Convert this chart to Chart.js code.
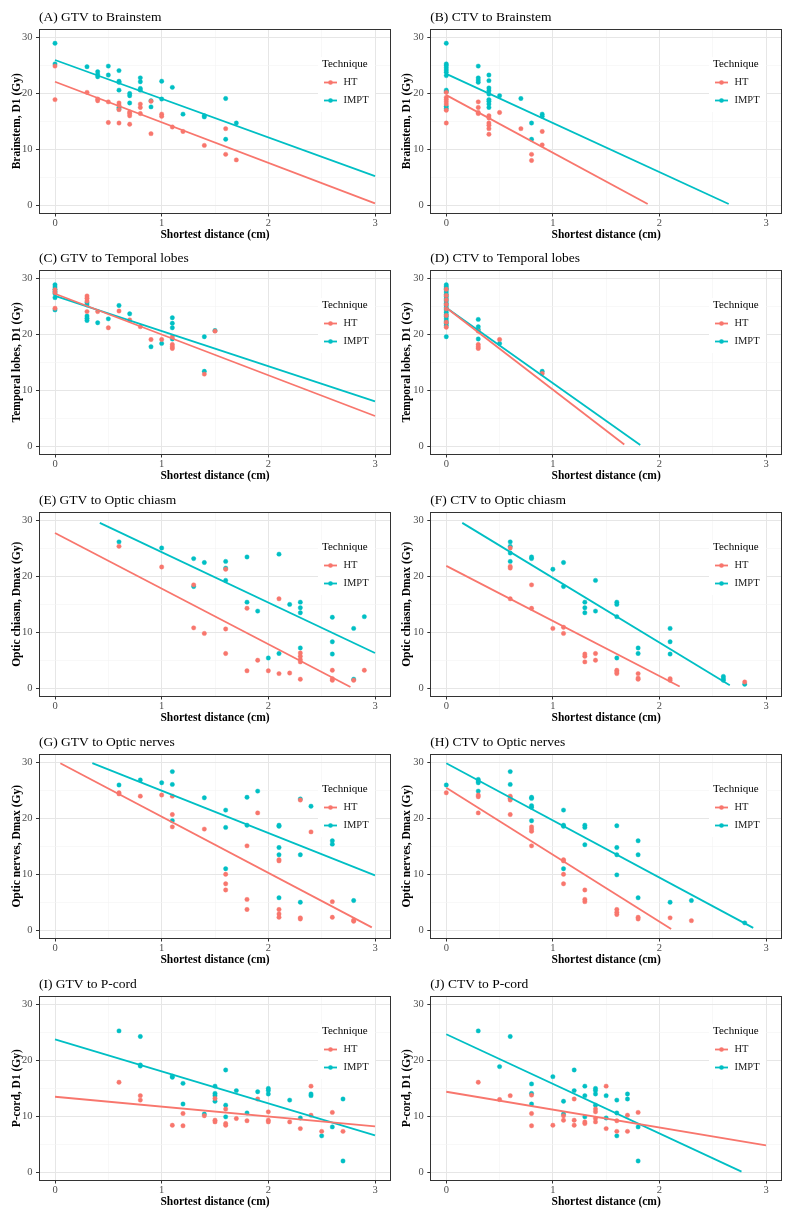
<!DOCTYPE html>
<html>
<head>
<meta charset="utf-8">
<script src="https://cdn.jsdelivr.net/npm/chart.js@4.4.0/dist/chart.umd.min.js"></script>
<style>
  body { margin: 0; background: #fff; width: 793px; height: 1215px; position: relative; overflow: hidden; }
  canvas.panel { position: absolute; }
</style>
</head>
<body>
<script>
// Shared settings
const techniques = ["HT", "IMPT"];
const techColors = ["#F8766D", "#00BFC4"];
const xTicks = [0, 0.5, 1, 1.5, 2, 2.5, 3];
const yTicks = [0, 5, 10, 15, 20, 25, 30];
const xTitle = "Shortest distance (cm)";

// (A) GTV to Brainstem
const htA = [[0,24.9],[0,18.9],[0.3,20.2],[0.4,19.0],[0.4,18.7],[0.5,18.5],[0.5,14.8],[0.6,18.3],[0.6,17.9],[0.6,17.1],[0.6,14.7],[0.7,16.7],[0.7,16.4],[0.7,16.0],[0.7,14.5],[0.8,18.1],[0.8,17.5],[0.8,16.4],[0.9,18.6],[0.9,12.8],[1.0,16.3],[1.0,15.9],[1.1,14.0],[1.2,13.2],[1.4,10.7],[1.6,13.7],[1.6,9.1],[1.7,8.1]];
const imptA = [[0,29.0],[0,25.3],[0.3,24.8],[0.4,23.9],[0.4,23.4],[0.4,23.0],[0.5,24.9],[0.5,23.3],[0.6,24.1],[0.6,22.2],[0.6,22.0],[0.6,20.6],[0.6,17.5],[0.6,17.2],[0.7,20.0],[0.7,19.6],[0.7,18.3],[0.8,22.8],[0.8,22.1],[0.8,20.9],[0.8,20.6],[0.9,18.7],[0.9,17.6],[1.0,22.2],[1.0,19.0],[1.1,21.1],[1.2,16.3],[1.4,16.0],[1.4,15.8],[1.6,19.1],[1.6,11.8],[1.7,14.7]];
const fitHtA = [[0,22.1],[3,0.3]];
const fitImptA = [[0,26.0],[3,5.2]];

// (B) CTV to Brainstem
const htB = [[0,20.2],[0,19.3],[0,18.9],[0,18.5],[0,18.1],[0,17.0],[0,14.7],[0.3,18.5],[0.3,17.5],[0.3,16.6],[0.3,16.4],[0.4,16.0],[0.4,15.6],[0.4,14.7],[0.4,14.3],[0.4,13.7],[0.4,12.7],[0.5,16.6],[0.7,13.7],[0.8,9.1],[0.8,8.0],[0.9,13.2],[0.9,10.8]];
const imptB = [[0,29.0],[0,25.3],[0,25.0],[0,24.6],[0,24.2],[0,23.8],[0,23.2],[0,20.6],[0,20.3],[0,17.7],[0,17.3],[0.3,24.9],[0.3,22.8],[0.3,22.4],[0.3,22.0],[0.4,23.3],[0.4,22.3],[0.4,21.0],[0.4,20.5],[0.4,19.9],[0.4,18.9],[0.4,18.6],[0.4,18.1],[0.4,17.5],[0.5,19.6],[0.7,19.1],[0.8,14.7],[0.8,11.8],[0.9,16.3],[0.9,15.9]];
const fitHtB = [[0,19.7],[1.89,0.2]];
const fitImptB = [[0,23.5],[2.65,0.2]];

// (C) GTV to Temporal lobes
const htC = [[0,28.0],[0,27.5],[0,24.7],[0.3,26.9],[0.3,26.5],[0.3,26.0],[0.3,24.1],[0.4,24.1],[0.5,21.2],[0.6,24.2],[0.7,22.6],[0.8,21.4],[0.9,19.1],[1.0,19.1],[1.1,19.6],[1.1,18.2],[1.1,17.8],[1.1,17.5],[1.4,12.9],[1.5,20.6]];
const imptC = [[0,28.9],[0,28.5],[0,28.1],[0,27.7],[0,27.3],[0,26.6],[0,24.4],[0.3,25.7],[0.3,25.3],[0.3,23.3],[0.3,22.9],[0.3,22.5],[0.4,22.1],[0.5,22.8],[0.6,25.2],[0.7,23.7],[0.9,17.8],[1.0,18.4],[1.1,23.0],[1.1,22.0],[1.1,21.2],[1.1,19.2],[1.4,19.6],[1.4,13.4],[1.5,20.7]];
const fitHtC = [[0,27.3],[3,5.4]];
const fitImptC = [[0,26.9],[3,8.0]];

// (D) CTV to Temporal lobes
const htD = [[0,28.1],[0,27.0],[0,26.2],[0,25.4],[0,24.6],[0,23.4],[0,22.2],[0,21.3],[0.3,20.6],[0.3,18.2],[0.3,17.8],[0.3,17.5],[0.5,19.1],[0.9,13.0]];
const imptD = [[0,28.9],[0,28.6],[0,28.3],[0,28.0],[0,27.6],[0,27.2],[0,26.8],[0,26.4],[0,26.0],[0,25.6],[0,25.2],[0,24.8],[0,24.4],[0,24.0],[0,23.6],[0,23.2],[0,22.8],[0,22.4],[0,22.0],[0,21.6],[0,19.6],[0.3,22.7],[0.3,21.4],[0.3,20.9],[0.3,19.2],[0.5,18.4],[0.9,13.4]];
const fitHtD = [[0,24.8],[1.67,0.3]];
const fitImptD = [[0,24.8],[1.82,0.2]];

// (E) GTV to Optic chiasm
const htE = [[0.6,25.4],[1.0,21.7],[1.3,18.5],[1.3,10.8],[1.4,9.8],[1.6,21.3],[1.6,10.6],[1.6,6.2],[1.8,14.3],[1.8,3.1],[1.9,5.0],[2.0,3.1],[2.1,16.0],[2.1,2.6],[2.2,2.7],[2.3,6.3],[2.3,5.7],[2.3,5.1],[2.3,4.7],[2.3,1.6],[2.6,3.2],[2.6,1.7],[2.6,1.4],[2.8,1.4],[2.9,3.2]];
const imptE = [[0.6,26.2],[1.0,25.1],[1.3,23.2],[1.3,18.2],[1.4,22.5],[1.6,22.7],[1.6,21.5],[1.6,19.3],[1.8,23.5],[1.8,15.4],[1.9,13.8],[2.0,5.4],[2.1,24.0],[2.1,6.2],[2.2,15.0],[2.3,15.4],[2.3,14.4],[2.3,13.5],[2.3,7.2],[2.6,12.7],[2.6,8.3],[2.6,6.1],[2.8,10.7],[2.8,1.6],[2.9,12.8]];
const fitHtE = [[0,27.8],[2.77,0.2]];
const fitImptE = [[0.42,29.6],[3,6.3]];

// (F) CTV to Optic chiasm
const htF = [[0.6,25.1],[0.6,21.8],[0.6,21.5],[0.6,16.0],[0.8,18.5],[0.8,14.3],[1.0,10.7],[1.1,10.9],[1.1,9.8],[1.3,6.1],[1.3,5.7],[1.3,4.7],[1.4,6.2],[1.4,5.0],[1.6,3.2],[1.6,2.9],[1.6,2.6],[1.8,2.6],[1.8,1.8],[1.8,1.6],[2.1,1.7],[2.1,1.4],[2.8,1.1]];
const imptF = [[0.6,26.2],[0.6,25.4],[0.6,24.2],[0.6,22.7],[0.8,23.5],[0.8,23.2],[1.0,21.3],[1.1,22.5],[1.1,18.2],[1.3,15.4],[1.3,14.4],[1.3,13.5],[1.4,19.3],[1.4,13.8],[1.6,15.4],[1.6,15.0],[1.6,12.8],[1.6,5.4],[1.8,7.2],[1.8,6.2],[2.1,10.7],[2.1,8.3],[2.1,6.1],[2.6,2.1],[2.6,1.7],[2.6,1.4],[2.8,0.7]];
const fitHtF = [[0,21.9],[2.19,0.3]];
const fitImptF = [[0.15,29.6],[2.66,0.5]];

// (G) GTV to Optic nerves
const htG = [[0.6,24.6],[0.6,24.4],[0.8,24.0],[1.0,24.2],[1.1,24.0],[1.1,20.7],[1.1,18.5],[1.4,18.1],[1.6,10.0],[1.6,8.3],[1.6,7.2],[1.8,15.1],[1.8,5.5],[1.8,3.7],[1.9,21.0],[2.1,12.6],[2.1,12.4],[2.1,3.7],[2.1,2.9],[2.1,2.3],[2.3,23.3],[2.3,2.2],[2.3,2.0],[2.4,17.6],[2.6,5.1],[2.6,2.3],[2.8,1.8],[2.8,1.6]];
const imptG = [[0.6,26.0],[0.8,26.9],[1.0,26.4],[1.1,28.4],[1.1,26.1],[1.1,19.6],[1.4,23.7],[1.6,21.5],[1.6,18.4],[1.6,11.0],[1.8,23.8],[1.8,18.8],[1.9,24.9],[2.1,18.8],[2.1,18.6],[2.1,14.8],[2.1,13.5],[2.1,5.8],[2.3,23.5],[2.3,13.5],[2.3,5.0],[2.4,22.2],[2.6,16.0],[2.6,15.4],[2.8,5.3]];
const fitHtG = [[0.05,29.9],[2.97,0.5]];
const fitImptG = [[0.35,29.9],[3,9.8]];

// (H) CTV to Optic nerves
const htH = [[0,24.6],[0.3,24.2],[0.3,23.9],[0.3,21.0],[0.6,24.0],[0.6,23.6],[0.6,23.3],[0.6,20.7],[0.8,18.5],[0.8,18.1],[0.8,17.7],[0.8,15.1],[1.1,12.6],[1.1,12.4],[1.1,10.0],[1.1,8.3],[1.3,7.2],[1.3,5.5],[1.3,5.1],[1.6,3.7],[1.6,3.2],[1.6,2.8],[1.8,2.3],[1.8,2.0],[2.1,2.2],[2.3,1.7]];
const imptH = [[0,26.0],[0.3,27.0],[0.3,26.7],[0.3,26.4],[0.3,24.9],[0.6,28.4],[0.6,26.1],[0.6,23.6],[0.8,23.8],[0.8,23.6],[0.8,22.3],[0.8,22.0],[0.8,19.6],[1.1,21.5],[1.1,18.8],[1.1,18.6],[1.1,11.0],[1.3,18.8],[1.3,18.4],[1.3,15.3],[1.6,18.7],[1.6,14.8],[1.6,13.5],[1.6,9.9],[1.8,16.0],[1.8,13.5],[1.8,5.8],[2.1,5.0],[2.3,5.3],[2.8,1.3]];
const fitHtH = [[0,25.5],[2.11,0.2]];
const fitImptH = [[0,29.9],[2.88,0.4]];

// (I) GTV to P-cord
const htI = [[0.6,16.1],[0.8,13.7],[0.8,12.9],[1.1,8.4],[1.2,10.5],[1.2,8.3],[1.4,10.1],[1.5,13.2],[1.5,9.3],[1.5,9.0],[1.6,11.3],[1.6,8.7],[1.6,8.4],[1.7,9.6],[1.8,9.2],[1.9,13.1],[2.0,10.8],[2.0,9.3],[2.0,9.0],[2.2,9.0],[2.3,7.8],[2.4,15.4],[2.4,10.2],[2.5,7.3],[2.6,10.7],[2.7,7.3]];
const imptI = [[0.6,25.3],[0.8,24.3],[0.8,19.2],[0.8,19.0],[1.1,17.2],[1.1,17.0],[1.2,15.9],[1.2,12.2],[1.4,10.4],[1.5,15.4],[1.5,14.1],[1.5,13.7],[1.5,12.7],[1.6,18.3],[1.6,12.0],[1.6,9.9],[1.7,14.6],[1.8,10.6],[1.9,14.4],[2.0,15.0],[2.0,14.6],[2.0,14.0],[2.2,12.9],[2.3,9.7],[2.4,14.0],[2.4,13.7],[2.5,6.5],[2.6,8.1],[2.7,13.1],[2.7,2.0]];
const fitHtI = [[0,13.5],[3,8.2]];
const fitImptI = [[0,23.8],[3,6.6]];

// (J) CTV to P-cord
const htJ = [[0.3,16.1],[0.5,13.0],[0.6,13.7],[0.8,13.8],[0.8,10.5],[0.8,8.3],[1.0,8.4],[1.1,10.1],[1.1,9.3],[1.2,13.1],[1.2,9.3],[1.2,8.4],[1.3,9.0],[1.3,8.7],[1.4,11.3],[1.4,10.8],[1.4,9.6],[1.4,9.0],[1.5,15.4],[1.5,7.8],[1.6,9.2],[1.6,7.3],[1.7,10.2],[1.7,7.3],[1.8,10.7]];
const imptJ = [[0.3,25.3],[0.5,18.9],[0.6,24.3],[0.8,15.8],[0.8,14.1],[0.8,12.2],[1.0,17.1],[1.1,12.7],[1.1,10.4],[1.2,18.3],[1.2,14.6],[1.3,15.4],[1.3,13.7],[1.3,9.9],[1.4,15.0],[1.4,14.6],[1.4,14.0],[1.4,12.0],[1.5,13.7],[1.5,9.7],[1.6,12.9],[1.6,10.6],[1.6,6.5],[1.7,14.0],[1.7,13.1],[1.8,8.1],[1.8,2.0]];
const fitHtJ = [[0,14.4],[3,4.8]];
const fitImptJ = [[0,24.7],[2.77,0.1]];

const panels = [
  { title: "(A) GTV to Brainstem", yTitle: "Brainstem, D1 (Gy)", pts: [htA, imptA], fits: [fitHtA, fitImptA] },
  { title: "(B) CTV to Brainstem", yTitle: "Brainstem, D1 (Gy)", pts: [htB, imptB], fits: [fitHtB, fitImptB] },
  { title: "(C) GTV to Temporal lobes", yTitle: "Temporal lobes, D1 (Gy)", pts: [htC, imptC], fits: [fitHtC, fitImptC] },
  { title: "(D) CTV to Temporal lobes", yTitle: "Temporal lobes, D1 (Gy)", pts: [htD, imptD], fits: [fitHtD, fitImptD] },
  { title: "(E) GTV to Optic chiasm", yTitle: "Optic chiasm, Dmax (Gy)", pts: [htE, imptE], fits: [fitHtE, fitImptE] },
  { title: "(F) CTV to Optic chiasm", yTitle: "Optic chiasm, Dmax (Gy)", pts: [htF, imptF], fits: [fitHtF, fitImptF] },
  { title: "(G) GTV to Optic nerves", yTitle: "Optic nerves, Dmax (Gy)", pts: [htG, imptG], fits: [fitHtG, fitImptG] },
  { title: "(H) CTV to Optic nerves", yTitle: "Optic nerves, Dmax (Gy)", pts: [htH, imptH], fits: [fitHtH, fitImptH] },
  { title: "(I) GTV to P-cord", yTitle: "P-cord, D1 (Gy)", pts: [htI, imptI], fits: [fitHtI, fitImptI] },
  { title: "(J) CTV to P-cord", yTitle: "P-cord, D1 (Gy)", pts: [htJ, imptJ], fits: [fitHtJ, fitImptJ] },
];

const SERIF = '"Liberation Serif", "Times New Roman", serif';
const rowTops = [0, 241, 483, 725, 967];
const toXY = (arr) => arr.map(([x, y]) => ({ x, y }));

// panel border (theme_bw)
const framePlugin = {
  id: "frame",
  afterDraw(chart) {
    const { ctx, chartArea: a } = chart;
    ctx.save();
    ctx.strokeStyle = "#333333";
    ctx.lineWidth = 1;
    ctx.strokeRect(Math.round(a.left) + 0.5, Math.round(a.top) + 0.5, Math.round(a.right - a.left) - 1, Math.round(a.bottom - a.top) - 1);
    ctx.restore();
  },
};

// legend placed inside the panel
const insideLegend = {
  id: "insideLegend",
  afterDatasetsDraw(chart) {
    const { ctx, chartArea: a } = chart;
    const r = a.right, t = a.top;
    ctx.save();
    ctx.fillStyle = "#ffffff";
    ctx.fillRect(r - 73, t + 28, 57, 55);
    ctx.fillStyle = "#000";
    ctx.textBaseline = "middle";
    ctx.textAlign = "left";
    ctx.font = "11px " + SERIF;
    ctx.fillText("Technique", r - 69, t + 35);
    techniques.forEach((name, i) => {
      const y = t + 53.5 + i * 18;
      ctx.strokeStyle = techColors[i];
      ctx.lineWidth = 1.8;
      ctx.beginPath();
      ctx.moveTo(r - 67, y);
      ctx.lineTo(r - 54, y);
      ctx.stroke();
      ctx.fillStyle = techColors[i];
      ctx.beginPath();
      ctx.arc(r - 60.5, y, 2.3, 0, Math.PI * 2);
      ctx.fill();
      ctx.fillStyle = "#1a1a1a";
      ctx.font = "10.5px " + SERIF;
      ctx.fillText(name, r - 47.5, y);
    });
    ctx.restore();
  },
};

const gridColor = (major) => (ctx) => (ctx.tick && ctx.tick.value % major === 0 ? "#e6e6e6" : "#f3f3f3");
const gridWidth = (major) => (ctx) => (ctx.tick && ctx.tick.value % major === 0 ? 1 : 0.6);
const tickColor = (major) => (ctx) => (ctx.tick && ctx.tick.value % major === 0 ? "#333333" : "rgba(0,0,0,0)");

panels.forEach((p, i) => {
  const col = i % 2;
  const row = Math.floor(i / 2);
  const canvas = document.createElement("canvas");
  canvas.className = "panel";
  canvas.width = col === 0 ? 396 : 397;
  canvas.height = 242;
  canvas.style.left = (col === 0 ? 0 : 396) + "px";
  canvas.style.top = rowTops[row] + "px";
  document.body.appendChild(canvas);

  const yAxisW = col === 0 ? 39 : 34.3;
  const yTitlePad = col === 0 ? 9.8 : 4.2;

  const datasets = [];
  techniques.forEach((name, k) => {
    datasets.push({
      type: "line",
      label: name + " fit",
      data: toXY(p.fits[k]),
      borderColor: techColors[k],
      borderWidth: 1.8,
      pointRadius: 0,
      fill: false,
      order: 1,
    });
  });
  techniques.forEach((name, k) => {
    datasets.push({
      label: name,
      data: toXY(p.pts[k]),
      backgroundColor: techColors[k],
      borderColor: techColors[k],
      borderWidth: 0.4,
      pointRadius: 2.2,
      order: 2,
    });
  });

  new Chart(canvas, {
    type: "scatter",
    data: { datasets },
    options: {
      responsive: false,
      animation: false,
      events: [],
      layout: { padding: { left: 0, right: col === 0 ? 5 : 11, top: 0, bottom: 0 } },
      plugins: {
        legend: { display: false },
        tooltip: { enabled: false },
        title: {
          display: true,
          text: p.title,
          align: "start",
          fullSize: false,
          color: "#000",
          font: { family: SERIF, size: 13.5, weight: "normal" },
          padding: { top: 9, bottom: 3.8 },
        },
      },
      scales: {
        x: {
          type: "linear",
          min: -0.15,
          max: 3.15,
          afterBuildTicks: (s) => { s.ticks = xTicks.map((v) => ({ value: v })); },
          afterFit: (s) => { s.height = 28.5; },
          border: { display: false },
          grid: { color: gridColor(1), lineWidth: gridWidth(1), tickColor: tickColor(1), tickLength: 3, tickWidth: 1 },
          ticks: {
            autoSkip: false,
            maxRotation: 0,
            padding: 0,
            color: "#4d4d4d",
            font: { family: SERIF, size: 10.5 },
            callback: (v) => (v % 1 === 0 ? v : ""),
          },
          title: {
            display: true,
            text: xTitle,
            color: "#000",
            font: { family: SERIF, size: 11.5, weight: "bold" },
            padding: 0,
          },
        },
        y: {
          type: "linear",
          min: -1.5,
          max: 31.55,
          afterBuildTicks: (s) => { s.ticks = yTicks.map((v) => ({ value: v })); },
          afterFit: (s) => { s.width = yAxisW; },
          border: { display: false },
          grid: { color: gridColor(10), lineWidth: gridWidth(10), tickColor: tickColor(10), tickLength: 3, tickWidth: 1 },
          ticks: {
            autoSkip: false,
            padding: 3.5,
            color: "#4d4d4d",
            font: { family: SERIF, size: 10.5 },
            callback: (v) => (v % 10 === 0 ? v : ""),
          },
          title: {
            display: true,
            text: p.yTitle,
            color: "#000",
            font: { family: SERIF, size: 11.5, weight: "bold" },
            padding: { top: yTitlePad, bottom: 0 },
          },
        },
      },
    },
    plugins: [insideLegend, framePlugin],
  });
});
</script>
</body>
</html>
